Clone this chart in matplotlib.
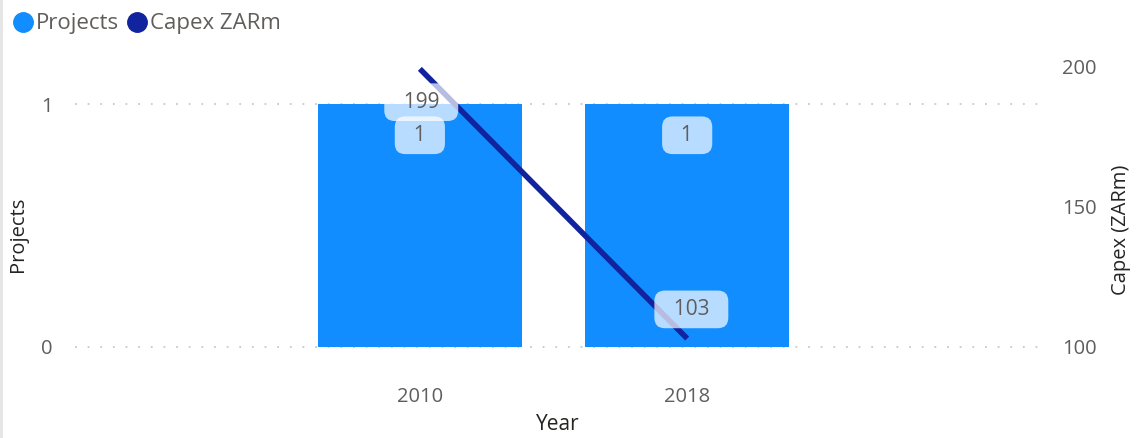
import matplotlib.pyplot as plt
from matplotlib.lines import Line2D
from matplotlib.patches import Rectangle

plt.rcParams['font.family'] = ['Open Sans', 'DejaVu Sans']

# data
years = ['2010', '2018']
projects = [1, 1]
capex = [199, 103]

bar_color = '#118DFF'
line_color = '#12239E'
tick_color = '#605E5C'
title_color = '#252423'

fig = plt.figure(figsize=(11.42, 4.38), dpi=100)
ax1 = fig.add_axes([0.0657, 0.1507, 0.845, 0.7466])
ax2 = ax1.twinx()

x = list(range(len(years)))

# bars for number of projects
ax1.bar(x, projects, width=0.764, color=bar_color, zorder=2)
ax1.set_ylim(-0.103, 1.243)
ax1.set_yticks([0, 1])
ax1.set_xlim(-1.29, 2.32)
ax1.set_xticks(x)
ax1.set_xticklabels(years)
ax1.grid(axis='y', color='#C8C8C8', linestyle=(0, (1, 6)), linewidth=1.3, zorder=0)
ax1.set_axisbelow(True)

# capex line on secondary axis
ax2.plot(x, capex, color=line_color, linewidth=4.0, solid_capstyle='butt', zorder=3)
ax2.set_ylim(91.1, 207.5)
ax2.set_yticks([100, 150, 200])

for ax in (ax1, ax2):
    for s in ax.spines.values():
        s.set_visible(False)
    ax.tick_params(length=0, labelsize=14.5, labelcolor=tick_color)
ax1.tick_params(axis='y', pad=16)
ax1.tick_params(axis='x', pad=11)
ax2.tick_params(axis='y', pad=16)

ax1.set_xlabel('Year', fontsize=15, color=title_color, labelpad=5)
ax1.set_ylabel('Projects', fontsize=14.5, color=title_color)
ax1.yaxis.set_label_coords(-0.0487, 0.42)
ax2.set_ylabel('Capex (ZARm)', fontsize=14.5, color=title_color)
ax2.yaxis.set_label_coords(1.0736, 0.434)

# data labels
box = dict(boxstyle='round,pad=0.4,rounding_size=0.5', facecolor='white',
           edgecolor='none', alpha=0.7)
for xi, v in zip(x, projects):
    ax2.annotate(f'  {v}  ', xy=(xi, v), xycoords=ax1.transData,
                 xytext=(0, -22.5), textcoords='offset points',
                 ha='center', va='center', fontsize=15, color=tick_color,
                 bbox=box, zorder=5)
ax2.annotate(f'  {capex[0]}  ', xy=(x[0], capex[0]), xytext=(1, -24),
             textcoords='offset points', ha='center', va='center',
             fontsize=15, color=tick_color, bbox=box, zorder=5)
ax2.annotate(f'  {capex[1]}  ', xy=(x[1], capex[1]), xytext=(3, 21),
             textcoords='offset points', ha='center', va='center',
             fontsize=15, color=tick_color, bbox=box, zorder=5)

# legend
handles = [Line2D([], [], marker='o', linestyle='', markersize=14, color=bar_color),
           Line2D([], [], marker='o', linestyle='', markersize=14, color=line_color)]
leg = fig.legend(handles, ['Projects', 'Capex ZARm'], loc='upper left',
                 bbox_to_anchor=(0.003, 0.995), ncol=2, frameon=False, fontsize=16,
                 handlelength=0.75, handletextpad=0.2, columnspacing=0.45,
                 borderpad=0.3, borderaxespad=0.2)
for t in leg.get_texts():
    t.set_color(tick_color)

# thin grey strip on the left edge
fig.patches.append(Rectangle((0, 0), 3 / 1142, 1, transform=fig.transFigure,
                             facecolor='#E6E6E6', edgecolor='none'))

fig.savefig('out.png', dpi=100)
